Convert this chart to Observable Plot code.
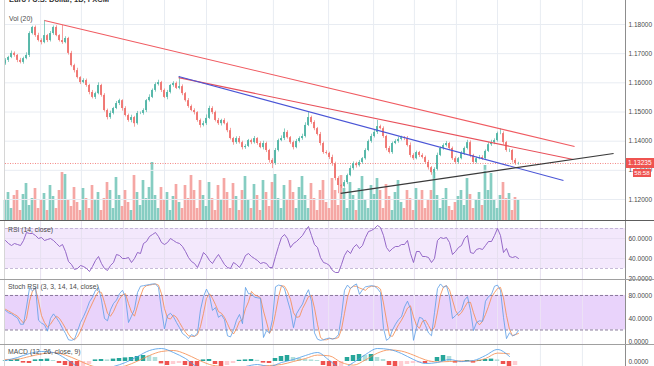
<!DOCTYPE html>
<html><head><meta charset="utf-8">
<script src="https://cdn.jsdelivr.net/npm/d3@7"></script>
<script src="https://cdn.jsdelivr.net/npm/@observablehq/plot@0.6"></script>
<style>
html,body{margin:0;padding:0;background:#fff;}
#wrap{position:relative;width:654px;height:366px;overflow:hidden;font-family:"Liberation Sans",Arial,sans-serif;background:#fff;}
.layer{position:absolute;left:0;}
.lbl{position:absolute;font-size:6.8px;color:#4a4a4a;white-space:nowrap;line-height:1;}
.sep{position:absolute;}
</style></head><body><div id="wrap"></div>
<script>
// ---------- DATA ----------
const title = "Euro / U.S. Dollar, 1D, FXCM";
const volLabel = "Vol (20)";
const rsiLabel = "RSI (14, close)";
const stochLabel = "Stoch RSI (3, 3, 14, 14, close)";
const macdLabel = "MACD (12, 26, close, 9)";

const firstOpen = 1.1665;
const closes = [
1.1677,1.1687,1.1701,1.1694,1.1677,1.1670,1.1683,1.1694,1.1769,1.1790,
1.1762,1.1745,1.1738,1.1762,1.1745,1.1769,1.1790,1.1762,1.1745,1.1738,
1.1752,1.1701,1.1659,1.1642,1.1618,1.1601,1.1608,1.1591,1.1567,1.1550,
1.1563,1.1591,1.1557,1.1505,1.1481,1.1495,1.1512,1.1529,1.1539,1.1512,
1.1488,1.1471,1.1481,1.1460,1.1495,1.1495,1.1505,1.1539,1.1550,1.1574,
1.1594,1.1601,1.1574,1.1550,1.1567,1.1591,1.1598,1.1581,1.1587,1.1563,
1.1539,1.1519,1.1505,1.1498,1.1471,1.1454,1.1460,1.1478,1.1512,1.1498,
1.1471,1.1460,1.1471,1.1460,1.1436,1.1409,1.1395,1.1409,1.1395,1.1378,
1.1382,1.1402,1.1395,1.1409,1.1392,1.1378,1.1392,1.1368,1.1334,1.1323,
1.1368,1.1402,1.1409,1.1430,1.1412,1.1395,1.1378,1.1399,1.1409,1.1416,
1.1454,1.1481,1.1464,1.1443,1.1423,1.1392,1.1361,1.1358,1.1344,1.1323,
1.1272,1.1248,1.1244,1.1258,1.1282,1.1306,1.1323,1.1316,1.1327,1.1340,
1.1368,1.1399,1.1416,1.1430,1.1450,1.1443,1.1416,1.1375,1.1361,1.1392,
1.1399,1.1406,1.1412,1.1409,1.1385,1.1351,1.1340,1.1361,1.1351,1.1344,
1.1327,1.1309,1.1292,1.1303,1.1351,1.1375,1.1385,1.1392,1.1375,1.1340,
1.1327,1.1340,1.1358,1.1375,1.1395,1.1351,1.1327,1.1340,1.1344,1.1340,
1.1365,1.1388,1.1395,1.1402,1.1426,1.1426,1.1395,1.1368,1.1368,1.1334,
1.1323,1.13235];
// wick lengths above / below the body, in pips
const wickUp = [
6,4,8,5,3,7,5,9,6,4, 5,8,6,52,4,7,5,6,3,52, 6,4,7,5,8,3,6,5,4,7, 5,9,4,6,5,8,4,7,5,3,
6,5,8,4,7,5,6,4,9,5, 6,8,4,5,7,3,6,5,35,6, 4,7,5,6,3,5,8,12,8,6, 5,7,4,6,5,8,4,6,7,5,
6,4,5,7,3,6,8,5,4,6, 7,5,9,12,6,4,5,7,6,8, 9,17,5,6,4,7,5,6,4,8, 5,6,4,7,5,9,6,5,7,4,
6,5,8,7,21,5,6,4,7,5, 6,8,5,4,7,9,6,5,4,6, 5,7,4,6,8,5,6,7,4,5, 6,4,7,5,8,6,4,5,7,6,
5,7,8,6,5,17,6,4,5,3, 6,4];
const wickDn = [
5,7,4,6,8,5,6,4,7,5, 6,5,8,4,7,5,6,4,5,6, 4,6,5,8,5,7,4,6,8,5, 7,4,6,5,8,6,5,4,7,9,
5,6,8,12,5,4,6,7,5,4, 6,5,7,4,8,5,6,4,5,7, 5,6,4,8,6,9,5,6,4,7, 5,6,8,4,7,5,9,6,5,8,
6,4,7,5,6,4,8,7,9,17, 6,5,4,7,5,6,8,4,5,6, 5,4,6,7,5,8,6,5,7,9, 8,28,6,5,7,4,6,8,5,6,
5,4,6,5,7,4,6,8,5,6, 4,6,5,7,5,8,6,4,7,5, 6,8,9,20,5,4,6,5,7,6, 5,6,4,7,5,8,6,5,4,6,
5,4,6,7,5,4,8,6,7,9, 6,5];
const volume = [
20,28,12,25,30,10,26,37,15,22, 32,12,20,27,10,35,24,12,30,48, 46,20,14,33,18,10,32,22,12,35,
20,28,10,22,38,30,12,43,25,14, 30,18,10,45,28,15,40,22,33,58, 25,12,33,20,28,10,24,36,18,12,
35,22,45,30,12,40,25,14,38,22, 10,35,20,42,28,12,37,24,10,30, 44,20,12,36,25,10,40,28,14,38,
46,22,12,35,20,40,28,12,33,44, 25,12,37,22,10,30,40,18,12,42, 30,15,45,32,12,38,25,10,32,44,
20,12,35,26,42,30,12,36,24,10, 28,40,18,12,30,22,10,32,20,30, 12,20,30,48,25,12,22,32,14,10,
18,24,30,15,42,26,12,20,28,15, 55,30,47,20,12,25,38,22,27,10, 23,20];
const rsi = [
58,55,53,55,54,53,58,66,65,65, 63,60,61,58,59,60,58,55,52,54, 47,37,34,29,30,33,32,30,27,32,
38,42,35,30,28,33,36,44,43,40, 40,41,36,40,46,45,55,57,62,64, 66,62,56,54,56,60,58,56,55,52,
47,41,37,35,31,38,46,43,38,35, 40,44,39,34,31,30,36,34,31,36, 43,45,42,40,38,35,36,35,31,31,
42,52,61,64,60,51,55,57,60,63, 68,72,63,54,51,41,36,35,33,28, 26,26,34,43,48,45,51,54,50,53,
61,67,68,70,73,71,63,51,47,50, 52,52,54,54,58,45,36,47,47,42, 42,41,36,40,58,61,60,61,56,44,
47,51,53,60,63,46,45,49,50,49, 53,57,57,63,70,63,46,50,42,41, 42,40];
const stochK = [
54,50,48,44,41,30,30,60,93,88, 94,37,32,29,18,40,48,41,33,23, 14,3,2,4,18,33,43,55,69,77,
89,94,72,40,36,55,66,72,83,89, 77,33,44,56,85,96,97,98,99,100, 100,94,55,22,45,49,43,33,24,14,
10,5,12,9,15,55,78,91,80,54, 59,42,46,38,10,8,20,37,47,31, 94,83,83,77,76,75,7,19,15,38,
95,98,97,92,72,54,24,48,57,65, 80,90,70,15,4,2,3,5,6,4, 6,12,45,89,98,92,97,100,82,90,
95,96,97,96,92,85,23,2,6,20, 30,38,43,60,70,57,2,24,42,40, 28,15,10,50,92,100,94,97,78,40,
45,50,55,72,78,54,19,33,36,35, 70,78,82,96,98,89,42,5,15,10, 12,19];
const stochD = [
56,53,50,47,44,38,32,40,70,88, 92,70,45,33,25,30,38,44,40,32, 23,13,6,3,8,18,31,44,56,67,
78,87,85,68,49,44,52,64,74,81, 83,66,51,44,62,79,93,97,98,99, 100,98,83,57,41,39,46,42,33,24,
16,10,9,9,12,26,49,75,83,75, 64,52,49,42,31,19,13,22,35,38, 57,69,87,81,79,76,53,34,14,24,
49,77,97,96,87,73,50,42,43,57, 67,78,80,58,30,7,3,3,5,5, 5,7,21,49,77,93,96,96,93,91,
89,94,96,96,95,91,67,37,10,9, 19,29,37,47,58,62,43,28,23,35, 37,28,18,25,51,81,95,97,90,72,
54,45,50,59,68,68,50,35,29,35, 47,61,77,85,92,94,76,45,21,10, 12,14];
// MACD lines read every 4th bar, histogram every 2nd bar
const macdStep = 4, histStep = 2;
const macdLine = [0.0005,0.002,0.004,0.005,0.0045,0.0015,-0.0025,-0.0045,-0.004,-0.0025,-0.0005,0.0025,0.0055,0.0065,
0.0045,0.0015,-0.0025,-0.003,-0.0025,-0.004,-0.0025,-0.0015,-0.0025,-0.0005,0.001,0.003,0.0045,0.0005,-0.0035,-0.0005,
0.0035,0.0065,0.006,0.004,0.001,-0.001,-0.0005,0.001,0,0.0005,0.003,0.006,0.0025];
const macdSignal = [0.001,0.0012,0.0025,0.0038,0.0045,0.0032,0.0008,-0.0018,-0.0032,-0.0033,-0.0022,0.0002,0.003,0.005,
0.0055,0.0038,0.001,-0.0015,-0.0025,-0.003,-0.003,-0.0025,-0.002,-0.0015,0,0.0015,0.0032,0.0028,-0.0005,-0.0018,
0.0008,0.0042,0.0058,0.0052,0.0032,0.0008,-0.0002,0,0.0003,0.0002,0.0015,0.0042,0.0038];
const macdHist = [0.0003,0.0005,0.001,-0.0008,-0.001,0.0008,0.001,0.0012,0.0005,-0.001,-0.002,-0.003,-0.003,-0.0025,
-0.0015,0.0008,0.001,0.0008,0.0012,0.0015,0.0018,0.002,0.0025,0.003,0.0028,0.002,-0.0012,-0.002,-0.0015,-0.001,
-0.002,-0.003,-0.003,0.0008,0.001,-0.0015,-0.0025,-0.002,-0.001,0.0006,0.0008,0.001,0.0006,-0.0008,-0.001,
0.0015,0.0025,0.003,0.002,0.0015,0.001,0.0008,0.0005,-0.002,-0.003,-0.003,-0.0025,0.002,0.003,0.0035,0.003,
0.0035,0.002,0.001,-0.002,-0.003,-0.0025,-0.0015,-0.001,-0.0008,-0.001,-0.0005,0.002,0.003,0.0025,-0.0008,
-0.0006,0.0005,-0.0008,0.0006,0.001,0.0012,0.0008,-0.0015,-0.0025,-0.002];

const priceTicks = [1.12,1.13,1.14,1.15,1.16,1.17,1.18];
const rsiTicks = [20,40,60];
const rsiBandLevels = [30,70];
const stochTicks = [0,40,80];
const stochBandLevels = [20,80];
const macdTicks = [0];
const lastPrice = 1.13235;
const countdown = "58:58";
// date grid positions (bar index)
const gridBars = [11.7,25.3,39.3,53,67,89.3,107.7,122.7,136.3,150.3,164,178.3,192.3];
// trend lines: start bar, start price, end bar, end price
const tlStartBar   = [13,    57.7,   57.7,   111.7];
const tlStartPrice = [1.1814,1.1618, 1.1622, 1.1221];
const tlEndBar     = [189.7, 189.3,  186,    202.7];
const tlEndPrice   = [1.1382,1.1337, 1.1265, 1.1358];

// ---------- BUILD ----------
const UP = "#55b7a8", DN = "#f07773", VUP = "#86cdc2", VDN = "#f5a7a4";
const GRID = "#e8ecf2";
const TL_COLORS = ["#f05b61","#e8505a","#4a55d6","#3a3a3a"];
const X_END = 206.67;
const bars = closes.map((c, i) => {
  const open = i ? closes[i-1] : firstOpen;
  const top = Math.max(open, c), bot = Math.min(open, c);
  return {i, open, close: c, high: top + wickUp[i]*1e-4, low: bot - wickDn[i]*1e-4, up: c >= open, vol: volume[i]};
});
const trend = tlStartBar.map((b, k) => ({x1: b, y1: tlStartPrice[k], x2: tlEndBar[k], y2: tlEndPrice[k], k}));

const font = "Liberation Sans, Arial, sans-serif";
const common = {width: 654, marginLeft: 5, marginRight: 29, marginTop: 0, marginBottom: 0,
  x: {domain: [0, X_END], axis: null},
  style: {background: "transparent", fontFamily: font, fontSize: "6.5px", color: "#4a4a4a", overflow: "visible"}};
const rAxis = (ticks, fmt) => Plot.axisY({anchor: "right", ticks, tickSize: 0, tickPadding: 3, tickFormat: fmt, label: null});

const wrap = document.getElementById("wrap");
function place(el, top) { el.classList.add("layer"); el.style.top = top + "px"; wrap.appendChild(el); return el; }

// volume layer (with grid)
const volPlot = Plot.plot({...common, height: 221, marginBottom: 1, y: {domain: [0, 220], axis: null},
  marks: [
    Plot.ruleX(gridBars, {stroke: GRID}),
    Plot.rect(bars, {x1: d => d.i - 0.45, x2: d => d.i + 0.45, y1: 0, y2: "vol", fill: d => d.up ? VUP : VDN})
  ]});
place(volPlot, 0);

// price layer
const main = Plot.plot({...common, height: 221, y: {domain: [1.11246, 1.18823]},
  marks: [
    Plot.ruleY(priceTicks, {stroke: GRID}),
    Plot.ruleY([lastPrice], {stroke: "#ef5350", strokeDasharray: "1,1.5", strokeWidth: 0.7}),
    Plot.ruleX(bars, {x: "i", y1: "low", y2: "high", stroke: d => d.up ? UP : DN, strokeWidth: 0.7}),
    Plot.rect(bars, {x1: d => d.i - 0.32, x2: d => d.i + 0.32, y1: "open", y2: "close", fill: d => d.up ? UP : DN}),
    Plot.link(trend, {x1: "x1", y1: "y1", x2: "x2", y2: "y2", stroke: d => TL_COLORS[d.k], strokeWidth: 1.1}),
    rAxis(priceTicks, d => d.toFixed(5))
  ]});
place(main, 0);

// RSI
const rsiData = rsi.map((v, i) => ({i, v}));
const rsiPlot = Plot.plot({...common, height: 59, y: {domain: [18, 77]},
  marks: [
    Plot.barY([{lo: rsiBandLevels[0], hi: rsiBandLevels[1]}], {y1: "lo", y2: "hi", fill: "#f3e8fc"}),
    Plot.ruleX(gridBars, {stroke: "#e6e0ef"}),
    Plot.ruleY([40, 60], {stroke: "#e8dff3"}),
    Plot.ruleY(rsiBandLevels, {stroke: "#b9a8cf", strokeDasharray: "3,2", strokeWidth: 0.8}),
    Plot.line(rsiData, {x: "i", y: "v", stroke: "#8a5ac2", strokeWidth: 0.9}),
    rAxis(rsiTicks, d => d.toFixed(4))
  ]});
place(rsiPlot, 221);

// Stoch RSI
const stData = stochK.map((k, i) => ({i, k, d: stochD[i]}));
const stPlot = Plot.plot({...common, height: 64, y: {domain: [-5.2, 106]},
  marks: [
    Plot.barY([{lo: stochBandLevels[0], hi: stochBandLevels[1]}], {y1: "lo", y2: "hi", fill: "#e9d3fb"}),
    Plot.ruleX(gridBars, {stroke: "#ece7f2", strokeOpacity: 0.8}),
    Plot.ruleY(stochBandLevels, {stroke: "#7d6d8f", strokeDasharray: "3,2", strokeWidth: 0.9}),
    Plot.line(stData, {x: "i", y: "d", stroke: "#f5894a", strokeWidth: 0.8}),
    Plot.line(stData, {x: "i", y: "k", stroke: "#5a9de6", strokeWidth: 0.8}),
    rAxis(stochTicks, d => d.toFixed(4))
  ]});
place(stPlot, 280);

// MACD
const mData = macdLine.map((v, j) => ({b: j * macdStep, m: v, s: macdSignal[j]}));
const hData = macdHist.map((v, j) => ({b: j * histStep, v, prev: j ? macdHist[j-1] : v}));
const hColor = d => d.v >= 0 ? (d.v >= d.prev ? "#26a69a" : "#b2dfdb") : (d.v <= d.prev ? "#ef5350" : "#ffcdd2");
const macdPlot = Plot.plot({...common, height: 22, y: {domain: [-0.0025, 0.0085]},
  marks: [
    Plot.ruleX(gridBars, {stroke: GRID}),
    Plot.rect(hData, {x1: d => d.b - 0.75, x2: d => d.b + 0.75, y1: 0, y2: "v", fill: hColor}),
    Plot.line(mData, {x: "b", y: "s", stroke: "#f5894a", strokeWidth: 0.8, curve: "monotone-x"}),
    Plot.line(mData, {x: "b", y: "m", stroke: "#4a9be8", strokeWidth: 0.8, curve: "monotone-x"}),
    rAxis(macdTicks, d => d.toFixed(4))
  ]});
place(macdPlot, 344);

// separators / borders (layout)
const xs = main.scale("x");
const axisX = xs.range[1];
function sep(css) { const d = document.createElement("div"); d.className = "sep"; Object.assign(d.style, css); wrap.appendChild(d); }
sep({left: "4px", top: "0px", width: "1px", height: "366px", background: "#d6d6d6"});
sep({left: axisX + "px", top: "0px", width: "1px", height: "366px", background: "#8d8d8d"});
sep({left: "0px", top: "220px", width: "654px", height: "1px", background: "#5d5d5d"});
sep({left: "0px", top: "279px", width: "654px", height: "1px", background: "#a0a0a0"});
sep({left: "0px", top: "344px", width: "654px", height: "1px", background: "#a0a0a0"});

// price tag
const yPx = main.scale("y").apply(lastPrice);
const tag = document.createElement("div");
Object.assign(tag.style, {position: "absolute", left: (axisX + 1) + "px", top: (yPx - 5) + "px", width: (654 - axisX - 1) + "px", height: "10px",
  background: "#ef5350", color: "#fff", fontSize: "6.5px", lineHeight: "10px", paddingLeft: "2px", boxSizing: "border-box", fontFamily: font});
tag.textContent = lastPrice.toFixed(5);
wrap.appendChild(tag);
const cd = document.createElement("div");
Object.assign(cd.style, {position: "absolute", left: (axisX + 8) + "px", top: (yPx + 6) + "px", width: "18px", height: "8px",
  background: "#ef5350", color: "#fff", fontSize: "6.2px", lineHeight: "8px", textAlign: "center", fontFamily: font});
cd.textContent = countdown;
wrap.appendChild(cd);

// texts
function lbl(text, x, y, extra) { const d = document.createElement("div"); d.className = "lbl"; d.textContent = text; d.style.left = x + "px"; d.style.top = y + "px"; if (extra) Object.assign(d.style, extra); wrap.appendChild(d); }
lbl(title, 9, -4, {fontSize: "7.5px", fontWeight: "bold", color: "#333"});
lbl(volLabel, 9, 16);
lbl(rsiLabel, 8, 227);
lbl(stochLabel, 8, 284);
lbl(macdLabel, 8, 349);
</script>
</body></html>
